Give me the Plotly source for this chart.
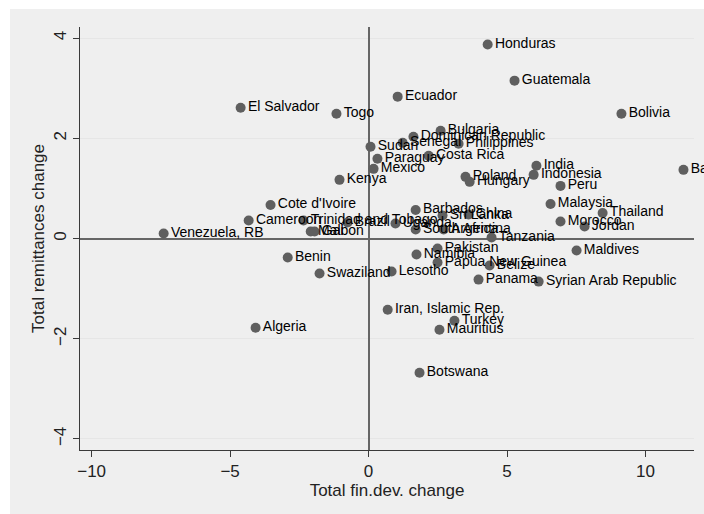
import plotly.graph_objects as go

# Country-level changes: financial development vs. remittances
countries = [
    "Honduras", "Guatemala", "Ecuador", "El Salvador", "Togo", "Bolivia",
    "Bulgaria", "Dominican Republic", "Senegal", "Philippines", "Sudan",
    "Costa Rica", "Paraguay", "Mexico", "Kenya", "India", "Indonesia",
    "Poland", "Hungary", "Peru", "Bahamas, The", "Cote d'Ivoire", "Barbados",
    "Malaysia", "Thailand", "Cameroon", "Trinidad and Tobago", "Sri Lanka",
    "China", "Brazil", "Uganda", "Morocco", "Jordan", "South Africa",
    "Argentina", "Venezuela, RB", "Mali", "Gabon", "Tanzania", "Pakistan",
    "Namibia", "Maldives", "Benin", "Papua New Guinea", "Belize", "Lesotho",
    "Swaziland", "Panama", "Syrian Arab Republic", "Iran, Islamic Rep.",
    "Turkey", "Mauritius", "Algeria", "Botswana",
]
fin_dev_change = [
    4.30, 5.27, 1.05, -4.62, -1.16, 9.13,
    2.60, 1.62, 1.23, 3.25, 0.07,
    2.17, 0.32, 0.18, -1.05, 6.06, 5.96,
    3.50, 3.65, 6.93, 11.37, -3.54, 1.70,
    6.57, 8.45, -4.33, -2.35, 2.67,
    3.61, -0.76, 0.97, 6.93, 7.80, 1.70,
    2.71, -7.40, -2.09, -1.95, 4.44, 2.49,
    1.73, 7.51, -2.92, 2.49, 4.37, 0.83,
    -1.77, 3.97, 6.14, 0.69,
    3.10, 2.56, -4.08, 1.84,
]
remit_change = [
    3.87, 3.15, 2.83, 2.61, 2.49, 2.49,
    2.15, 2.03, 1.91, 1.89, 1.83,
    1.65, 1.59, 1.39, 1.17, 1.45, 1.27,
    1.23, 1.13, 1.05, 1.37, 0.67, 0.57,
    0.69, 0.51, 0.36, 0.36, 0.46,
    0.48, 0.32, 0.30, 0.34, 0.24, 0.18,
    0.18, 0.10, 0.14, 0.14, 0.02, -0.20,
    -0.32, -0.24, -0.38, -0.48, -0.54, -0.66,
    -0.70, -0.82, -0.86, -1.42,
    -1.64, -1.82, -1.78, -2.68,
]

x_ticks = [-10, -5, 0, 5, 10]
y_ticks = [-4, -2, 0, 2, 4]

W, H = 704, 514
ML, MR, MT, MB = 80, 10, 27, 64
plot_w = W - ML - MR
plot_h = H - MT - MB

font_family = "Liberation Sans, Arial, Helvetica, sans-serif"
bg_gray = "#efefef"
axis_col = "#3a3a3a"

fig = go.Figure()

fig.add_trace(go.Scatter(
    x=fin_dev_change,
    y=remit_change,
    mode="markers+text",
    text=countries,
    textposition="middle right",
    textfont=dict(family=font_family, size=14, color="#000000"),
    marker=dict(size=10, color="#5f5f5f", line=dict(width=0)),
    cliponaxis=False,
    hoverinfo="skip",
    showlegend=False,
))

# Outer gray graph region (plot area itself stays white)
fig.add_shape(
    type="rect", xref="paper", yref="paper", layer="below",
    x0=(10 - ML) / plot_w, x1=(W + 20 - ML) / plot_w,
    y0=(H - MB - (H + 20)) / plot_h, y1=(H - MB - 9) / plot_h,
    fillcolor=bg_gray, line=dict(width=0),
)

fig.update_layout(
    width=W, height=H,
    margin=dict(l=ML, r=MR, t=MT, b=MB),
    paper_bgcolor="white",
    plot_bgcolor="white",
    font=dict(family=font_family, size=17, color="#222222"),
    xaxis=dict(
        range=[-10.42, 11.75],
        tickvals=x_ticks,
        ticktext=["\u221210", "\u22125", "0", "5", "10"],
        ticks="outside", ticklen=6, tickwidth=1, tickcolor=axis_col,
        showline=True, linecolor=axis_col, linewidth=1,
        showgrid=False,
        zeroline=True, zerolinecolor="#666666", zerolinewidth=1.6,
        title=dict(text="Total fin.dev. change", standoff=2,
                   font=dict(size=17, color="#222222")),
        tickfont=dict(size=17, color="#222222"),
    ),
    yaxis=dict(
        range=[-4.22, 4.22],
        tickvals=y_ticks,
        ticktext=["\u22124", "\u22122", "0", "2", "4"],
        tickangle=-90,
        ticks="outside", ticklen=6, tickwidth=1, tickcolor=axis_col,
        showline=True, linecolor=axis_col, linewidth=1,
        showgrid=True, gridcolor="#e6e6e6", gridwidth=1,
        zeroline=True, zerolinecolor="#666666", zerolinewidth=1.6,
        title=dict(text="Total remittances change", standoff=2,
                   font=dict(size=17, color="#222222")),
        tickfont=dict(size=17, color="#222222"),
    ),
)

fig.write_html("out.html")
